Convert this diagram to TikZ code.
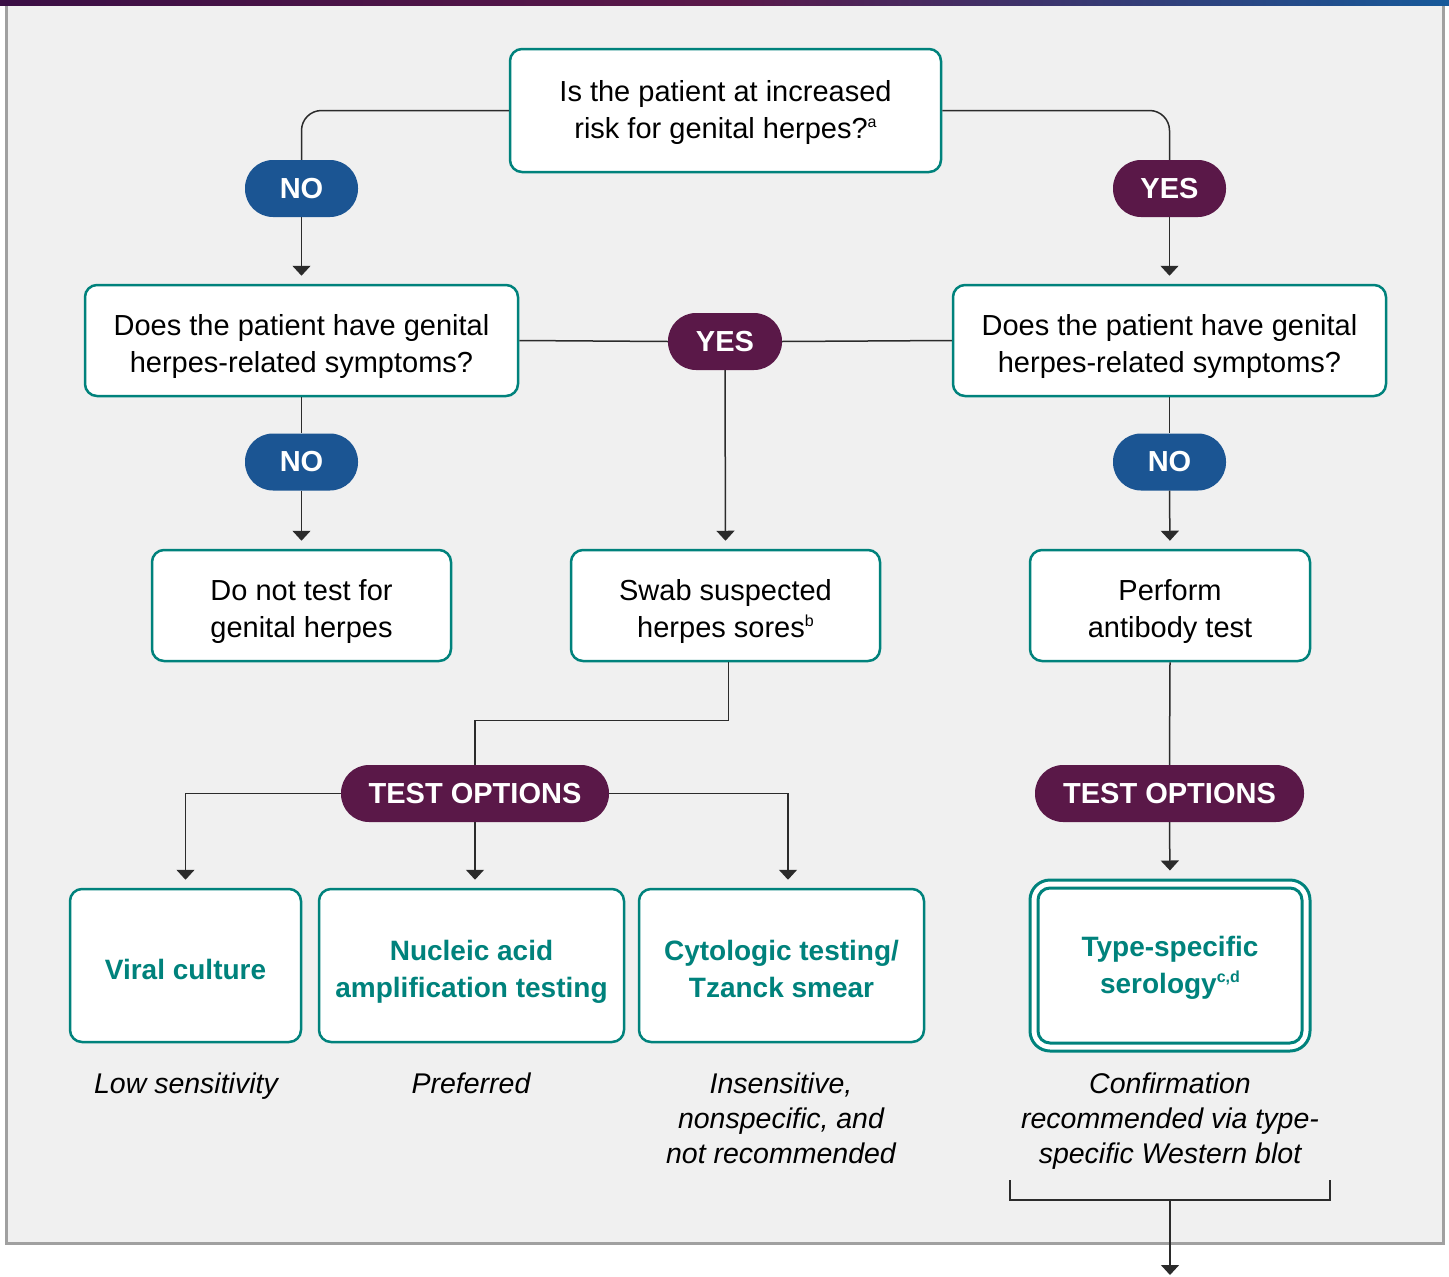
\documentclass[tikz,border=0pt]{standalone}
\usepackage{fontspec}
\setmainfont{Liberation Sans}
\usetikzlibrary{arrows.meta}
\definecolor{teal1}{HTML}{00827C}
\definecolor{nob}{HTML}{1B5593}
\definecolor{yesp}{HTML}{5A1848}
\definecolor{bg}{HTML}{F0F0F0}
\definecolor{framec}{HTML}{A0A0A0}
\definecolor{ln}{HTML}{2B2B2B}
\definecolor{gA}{HTML}{3B0F45}
\definecolor{gB}{HTML}{5A1849}
\definecolor{gC}{HTML}{16599A}
\newcommand\mysup[1]{\raisebox{11pt}{\fontsize{16}{16}\selectfont #1}}
\newcommand\mytxt[2][-6pt]{\raisebox{#1}[\height][\depth]{\begin{tabular}{@{}c@{}}#2\end{tabular}}}
\begin{document}
\begin{tikzpicture}[x=1pt,y=-1pt,
 box/.style={draw=teal1, line width=2.5pt, fill=white, rounded corners=12pt, inner sep=0pt, font=\fontsize{29}{37}\selectfont},
 pill/.style={rounded corners=28pt, minimum height=57pt, text=white, font=\fontsize{29}{30}\selectfont\bfseries, inner sep=0pt},
 opt/.style={box, text=teal1, font=\fontsize{28}{37}\selectfont\bfseries},
 lbl/.style={align=center, font=\fontsize{28.5}{35}\selectfont\itshape},
 conn/.style={draw=ln, line width=1.5pt},
 arr/.style={conn, -{Triangle[width=18pt,length=10pt]}, shorten >=8pt}
]
\fill[white] (0,0) rectangle (1449,1277);
\useasboundingbox (0,0) rectangle (1449,1277);
\fill[bg] (6,0) rectangle (1443,1243);
\draw[framec, line width=3pt] (6,4) -- (6,1243) -- (1443,1243) -- (1443,4);
\shade[left color=gA, right color=gC, middle color=gB] (0,0) rectangle (1449,5);

\node[box, minimum width=431pt, minimum height=123pt] (q0) at (725.5,110.5) {\mytxt[-2.5pt]{Is the patient at increased\\risk for genital herpes?\mysup{a}}};
\node[pill, fill=nob, minimum width=113pt] (no1) at (301.5,188.5) {NO};
\node[pill, fill=yesp, minimum width=113pt] (yes1) at (1169.5,188.5) {YES};
\node[box, minimum width=433pt, minimum height=111pt] (q1) at (301.5,340.5) {\mytxt{Does the patient have genital\\herpes-related symptoms?}};
\node[box, minimum width=433pt, minimum height=111pt] (q2) at (1169.5,340.5) {\mytxt{Does the patient have genital\\herpes-related symptoms?}};
\node[pill, fill=yesp, minimum width=114pt] (yes2) at (725,341.5) {YES};
\node[pill, fill=nob, minimum width=113pt] (no2) at (301.5,462) {NO};
\node[pill, fill=nob, minimum width=113pt] (no3) at (1169.5,462) {NO};
\node[box, minimum width=299pt, minimum height=111pt] (dnt) at (301.5,605.5) {\mytxt{Do not test for\\genital herpes}};
\node[box, minimum width=309pt, minimum height=111pt] (swab) at (725.5,605.5) {\mytxt{Swab suspected\\herpes sores\mysup{b}}};
\node[box, minimum width=280pt, minimum height=111pt] (perf) at (1170,605.5) {\mytxt{Perform\\antibody test}};
\node[pill, fill=yesp, minimum width=268pt] (to1) at (475,793.5) {TEST OPTIONS};
\node[pill, fill=yesp, minimum width=269pt] (to2) at (1169.5,793.5) {TEST OPTIONS};
\node[opt, minimum width=231pt, minimum height=153pt] (vc) at (185.5,965.5) {\mytxt[-7pt]{Viral culture}};
\node[opt, minimum width=305pt, minimum height=153pt] (naat) at (471.5,965.5) {\mytxt{Nucleic acid\\amplification testing}};
\node[opt, minimum width=285pt, minimum height=153pt] (cyto) at (781.5,965.5) {\mytxt{Cytologic testing/\\Tzanck smear}};
\node[box, minimum width=280pt, minimum height=171pt, rounded corners=20pt, line width=3pt] (tsso) at (1170,965.5) {};
\node[opt, minimum width=264pt, minimum height=155pt, line width=3pt] (tss) at (1170,965.5) {\mytxt[-2pt]{Type-specific\\serology\mysup{c,d}}};

\node[lbl] (l1) at (186,1086) {Low sensitivity};
\node[lbl] (l2) at (471,1083) {Preferred};
\node[lbl] (l3) at (781,1118) {Insensitive,\\nonspecific, and\\not recommended};
\node[lbl] (l4) at (1170,1121) {Confirmation\\recommended via type-\\specific Western blot};

\draw[conn, rounded corners=20pt] (q0.west) -| (no1.north);
\draw[conn, rounded corners=20pt] (q0.east) -| (yes1.north);
\draw[arr] (no1.south) -- (q1.north);
\draw[arr] (yes1.south) -- (q2.north);
\draw[conn] (q1.east) -- (yes2.west);
\draw[conn] (q2.west) -- (yes2.east);
\draw[arr] (yes2.south) -- (swab.north);
\draw[conn] (q1.south) -- (no2.north);
\draw[arr] (no2.south) -- (dnt.north);
\draw[conn] (q2.south) -- (no3.north);
\draw[arr] (no3.south) -- (perf.north);
\draw[conn] ([xshift=3pt]swab.south) -- ++(0,58) -| (to1.north);
\draw[arr] (to1.west) -| (vc.north);
\draw[arr] (to1.south) -- (to1.south |- naat.north);
\draw[arr] (to1.east) -| ([xshift=6.5pt]cyto.north);
\draw[conn] (perf.south) -- (to2.north);
\draw[arr] (to2.south) -- (tsso.north);
\coordinate (bl) at (1010,1180);
\coordinate (br) at (1330,1180);
\coordinate (bm) at (1170,1200);
\coordinate (bend) at (1170,1277);
\draw[conn] (bl) |- (br |- bm) -- (br);
\draw[arr, shorten >=2pt] (bm) -- (bend);
\end{tikzpicture}
\end{document}
